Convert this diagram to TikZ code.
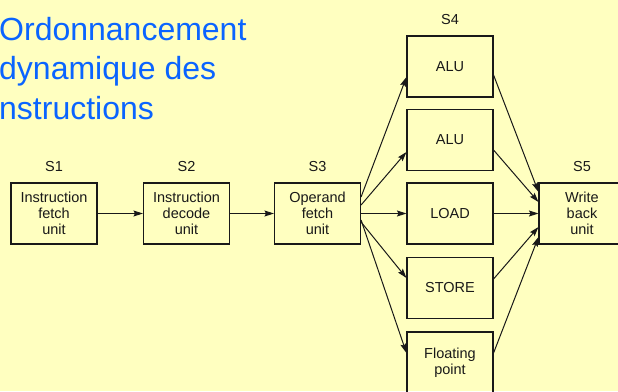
\documentclass[tikz,border=0pt]{standalone}
\usepackage{fontspec}
\setmainfont{Liberation Sans}
\usetikzlibrary{arrows.meta,calc}
\definecolor{bgyellow}{RGB}{255,255,192}
\definecolor{titleblue}{RGB}{10,100,255}
\definecolor{ink}{RGB}{25,25,25}
\begin{document}
\begin{tikzpicture}[x=1pt,y=-1pt,
  unit/.style={draw=ink, line width=1.1pt, minimum width=86pt, minimum height=61pt, inner sep=0pt, align=center, font=\fontsize{14.5}{16}\selectfont, text=ink},
  stage/.style={font=\fontsize{14.5}{16}\selectfont, text=ink, inner sep=0pt},
  ttl/.style={font=\fontsize{32}{39}\selectfont, text=titleblue, anchor=base west, inner sep=0pt},
  conn/.style={draw=ink, line width=1pt, -{Stealth[length=9.5pt,width=6pt,inset=1.5pt]}}]
\useasboundingbox (0,0) rectangle (618,391);
\fill[bgyellow] (0,0) rectangle (618,391);
\clip (0,0) rectangle (618,391);

\node[ttl] (t1) at (-1,40) {Ordonnancement};
\node[ttl] (t2) at (-1,79) {dynamique des};
\node[ttl] (t3) at (-1,119) {nstructions};

\node[unit] (s1) at (54,213.5) {Instruction\\fetch\\unit};
\node[unit] (s2) at (186.5,213.5) {Instruction\\decode\\unit};
\node[unit] (s3) at (317.5,213.5) {Operand\\fetch\\unit};
\node[unit] (alu1) at (450,66.5) {ALU};
\node[unit] (alu2) at (450,140) {ALU};
\node[unit] (load) at (450,213.5) {LOAD};
\node[unit] (store) at (450,288) {STORE};
\node[unit] (fp) at (450,362.5) {Floating\\point};
\node[unit] (wb) at (582,213.5) {Write\\back\\unit};

\node[stage] (l1) at (54,167) {S1};
\node[stage] (l2) at (186.5,167) {S2};
\node[stage] (l3) at (317.5,167) {S3};
\node[stage] (l4) at (450,20) {S4};
\node[stage] (l5) at (582,167) {S5};

\draw[conn] (s1.east) -- (s2.west);
\draw[conn] (s2.east) -- (s3.west);
\draw[conn] ($(s3.east)+(0,-16.5)$) -- ($(alu1.west)+(0,10.5)$);
\draw[conn] ($(s3.east)+(0,-8.5)$) -- ($(alu2.west)+(0,12)$);
\draw[conn] (s3.east) -- (load.west);
\draw[conn] ($(s3.east)+(0,8.5)$) -- ($(store.west)+(0,-10)$);
\draw[conn] ($(s3.east)+(0,6.5)$) -- ($(fp.west)+(0,-9.5)$);

\draw[conn] ($(alu1.east)+(0,8.5)$) -- ($(wb.west)+(0,-21.5)$);
\draw[conn] ($(alu2.east)+(0,10)$) -- ($(wb.west)+(0,-11.5)$);
\draw[conn] (load.east) -- (wb.west);
\draw[conn] ($(store.east)+(0,-9)$) -- ($(wb.west)+(0,13.5)$);
\draw[conn] ($(fp.east)+(0,-9.5)$) -- ($(wb.west)+(0,23.5)$);
\end{tikzpicture}
\end{document}
